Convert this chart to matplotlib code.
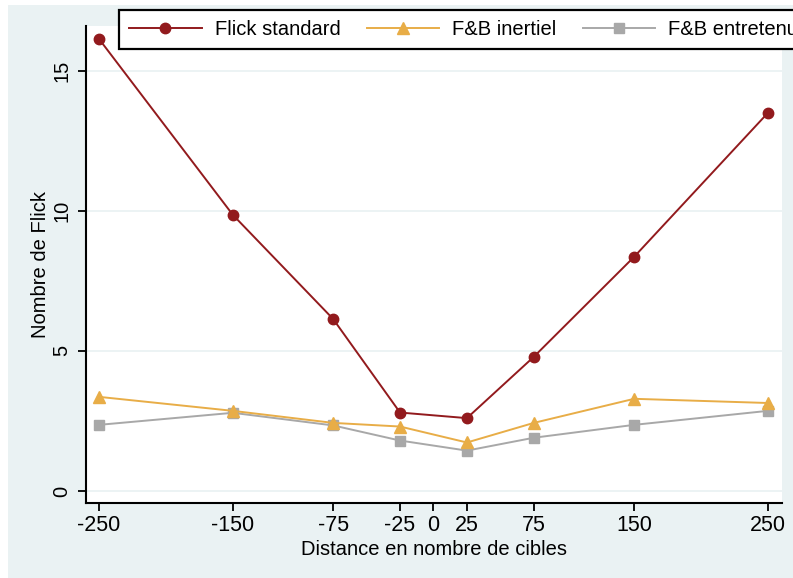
import matplotlib
matplotlib.use("Agg")
import matplotlib.pyplot as plt
from matplotlib.patches import Rectangle

# distances (nombre de cibles)
distances = [-250, -150, -75, -25, 25, 75, 150, 250]
xticks = [-250, -150, -75, -25, 0, 25, 75, 150, 250]

flick_standard = [16.14, 9.86, 6.14, 2.80, 2.60, 4.79, 8.36, 13.5]
fb_inertiel = [3.36, 2.86, 2.43, 2.30, 1.73, 2.43, 3.29, 3.14]
fb_entretenu = [2.36, 2.79, 2.34, 1.80, 1.44, 1.90, 2.36, 2.86]

plt.rcParams['font.family'] = ['Liberation Sans', 'DejaVu Sans']

bg = '#EAF2F3'
c_red = '#921A1D'
c_org = '#E8AD47'
c_gry = '#A8A8A8'

fig = plt.figure(figsize=(7.93, 5.78), dpi=100)
fig.patches.append(Rectangle((8 / 793, 0), 1, 1 - 5 / 578, transform=fig.transFigure,
                             facecolor=bg, edgecolor='none', zorder=-10))

ax = fig.add_axes([86 / 793, 1 - 503 / 578, (782 - 86) / 793, (503 - 26) / 578])
ax.set_facecolor('white')

ax.plot(distances, flick_standard, color=c_red, lw=1.4, marker='o', ms=7.5,
        label='Flick standard', zorder=5)
ax.plot(distances, fb_inertiel, color=c_org, lw=1.4, marker='^', ms=8.5,
        label='F&B inertiel', zorder=4)
ax.plot(distances, fb_entretenu, color=c_gry, lw=1.4, marker='s', ms=6.5,
        label='F&B entretenu', zorder=3)

ax.set_xlim(-259.7, 260.5)
ax.set_ylim(-0.43, 16.6)
ax.set_yticks([0, 5, 10, 15])
ax.set_xticks(xticks)
ax.set_xticklabels([str(v) for v in xticks], fontsize=15.5)
ax.set_yticklabels(['0', '5', '10', '15'], rotation=90, va='center', fontsize=14.5)
ax.tick_params(axis='both', direction='out', length=5.5, width=1.3, color='black')
ax.tick_params(axis='x', pad=3)
ax.tick_params(axis='y', pad=5)
ax.grid(axis='y', color=bg, lw=1.3)
ax.set_axisbelow(True)

for s in ['top', 'right']:
    ax.spines[s].set_visible(False)
for s in ['left', 'bottom']:
    ax.spines[s].set_linewidth(1.5)

ax.set_xlabel('Distance en nombre de cibles', fontsize=14.5, labelpad=3)
ax.set_ylabel('Nombre de Flick', fontsize=14.5, labelpad=2)

leg = fig.legend(loc='upper left', bbox_to_anchor=(119 / 793, 1 - 10 / 578), ncol=3,
                 fontsize=14.5, frameon=True, fancybox=False, handlelength=3.6,
                 handletextpad=0.65, columnspacing=1.3, borderpad=0.5,
                 borderaxespad=0)
leg.get_frame().set_edgecolor('black')
leg.get_frame().set_linewidth(1.6)
leg.get_frame().set_alpha(1)

fig.savefig('out.png', dpi=100)
